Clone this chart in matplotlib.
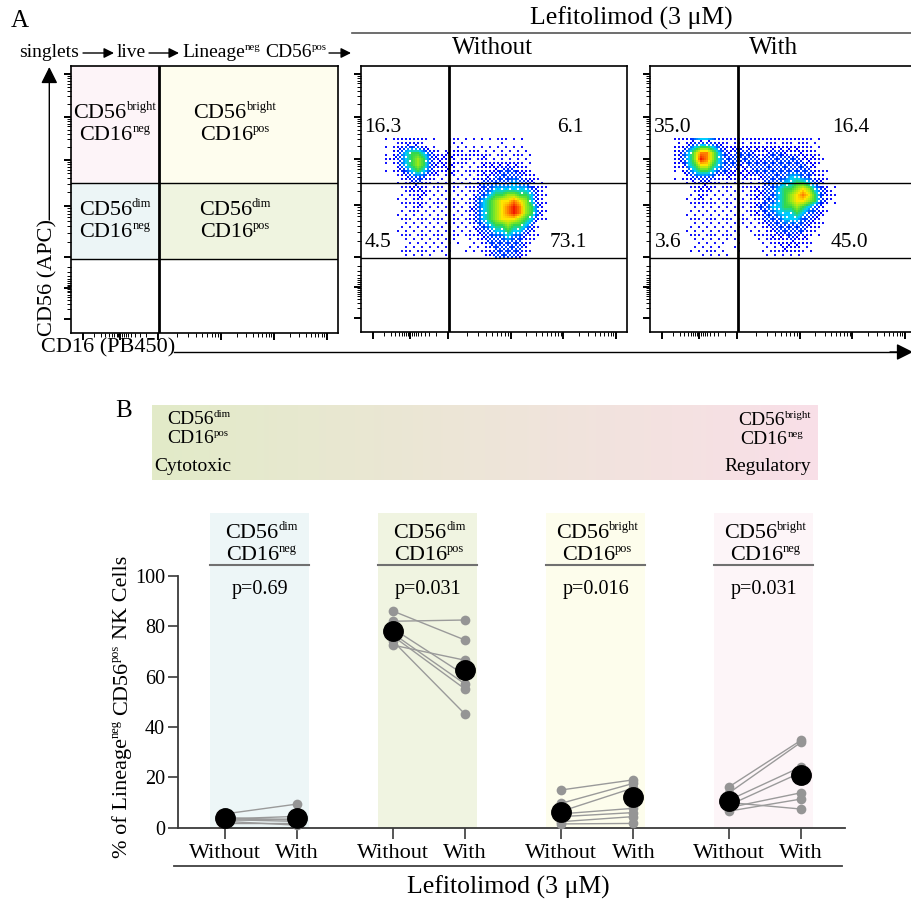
import numpy as np
import matplotlib
matplotlib.use("Agg")
import matplotlib.pyplot as plt
from matplotlib.colors import LinearSegmentedColormap
from matplotlib.lines import Line2D
from matplotlib.patches import FancyArrowPatch, Rectangle

plt.rcParams['font.family'] = ['Liberation Serif', 'DejaVu Serif']

# ---------------- data ----------------
# panel A quadrant percentages (UL, UR, LL, LR)
quad_without = ["16.3", "6.1", "4.5", "73.1"]
quad_with = ["35.0", "16.4", "3.6", "45.0"]

# density levels (0-9), 6-unit cells,
# x 24..192, y 194 (top row) .. 74 (bottom row)
dens_without = [
    "0011110000011000000100000000",
    "0123332110111111111111100000",
    "0234554321222122111111110000",
    "0234565322221211211111110000",
    "0134565322221111222222211000",
    "0123454322221112222333221000",
    "0012333211111112223333322100",
    "0011232111111112333334332110",
    "0011222111111112334444443210",
    "0011122111111113345566554210",
    "0011121111111123456778764210",
    "0011121111111123456789865310",
    "0011111111111123456789865310",
    "0011111111111123456777654210",
    "0011111111111113345565543100",
    "0011111111111112334454432100",
    "0011111111110112233343321000",
    "0001111111110011233333321000",
    "0011111111100111123333321000",
    "0011111101100000123333210000",
]
dens_with = [
    "0112222110111111111111110000",
    "1234554322222222222222111000",
    "1346886432333222332222211000",
    "1346986433333323333332221000",
    "1245775433323333333333221000",
    "0234554332222333333333321100",
    "0123333222222223333443322100",
    "0012222111111123334455432100",
    "0011221111111223345567643210",
    "0011211111111223345678753210",
    "0011211111111223345677653210",
    "0011111111111233445565432100",
    "0011111111111223344454332100",
    "0011111111111123334443321000",
    "0011111111111112333333221000",
    "0011111111101112233333211000",
    "0001111111100111222322210000",
    "0001111110100011122222100000",
    "0001111110100011112221100000",
    "0000111110000001111111000000",
]

# panel B: paired donors, % of Lineage-neg CD56-pos NK cells
group_top = [("CD56", "dim"), ("CD56", "dim"), ("CD56", "bright"), ("CD56", "bright")]
group_bottom = [("CD16", "neg"), ("CD16", "pos"), ("CD16", "pos"), ("CD16", "neg")]
p_values = ["p=0.69", "p=0.031", "p=0.016", "p=0.031"]
without_vals = [
    [5.5, 4.0, 3.5, 3.2, 3.0, 2.5, 2.0],
    [86, 82, 79, 77, 76, 74, 72.5],
    [15, 9.7, 6.5, 5.5, 4.4, 2.4, 1.5],
    [16.3, 13.9, 11, 10, 9, 8, 6.6],
]
with_vals = [
    [9.4, 3.0, 4.5, 2.5, 3.5, 1.0, 2.0],
    [74.5, 82.5, 60.5, 57, 55, 45, 66.5],
    [19, 17.6, 15.8, 7.7, 6.0, 4.4, 1.7],
    [34.8, 34, 24.2, 7.4, 22, 13.9, 11.4],
]
mean_without = [3.7, 78.1, 6.3, 10.6]
mean_with = [3.9, 62.7, 12.2, 20.9]
band_colors = ["#edf6f7", "#f0f4e1", "#fdfdec", "#fdf5f8"]
x_labels = ["Without", "With"]

# ---------------- helpers ----------------
W, H = 912, 900
fig = plt.figure(figsize=(W / 100, H / 100), dpi=100)
renderer = fig.canvas.get_renderer()


def fx(x):
    return x / W


def fy(y):
    return 1 - y / H


def px_axes(l, t, w, h):
    return fig.add_axes([l / W, 1 - (t + h) / H, w / W, h / H])


def ftext(x, y, s, **kw):
    return fig.text(fx(x), fy(y), s, **kw)


def fline(x0, y0, x1, y1, **kw):
    fig.add_artist(Line2D([fx(x0), fx(x1)], [fy(y0), fy(y1)],
                          transform=fig.transFigure, **kw))


def farrow(x0, y0, x1, y1, hl, hw, ms, lw=1.0):
    fig.add_artist(FancyArrowPatch((fx(x0), fy(y0)), (fx(x1), fy(y1)),
                                   transform=fig.transFigure,
                                   arrowstyle=f'-|>,head_length={hl},head_width={hw}',
                                   mutation_scale=ms, lw=lw, color='k',
                                   shrinkA=0, shrinkB=0))


def rich(x, y, parts, size, ha='left', rot=0, sup=0.56, rise=0.37):
    """Text with small superscripts; (x, y) = baseline anchor in pixels from top-left.
    parts: list of (text, kind) with kind 'n' normal, 's' superscript, ' ' space."""
    ang = np.deg2rad(rot)
    ux, uy = np.cos(ang), np.sin(ang)
    em = size * 100 / 72
    placed = []
    adv = 0.0
    for s, kind in parts:
        if kind == ' ':
            adv += 0.25 * em
            continue
        fs = size * (sup if kind == 's' else 1)
        off = rise * em if kind == 's' else 0.0
        t = fig.text(0, 0, s, fontsize=fs, rotation=rot, rotation_mode='anchor',
                     ha='left', va='baseline')
        bb = t.get_window_extent(renderer)
        placed.append((t, adv, off))
        adv += bb.width if rot == 0 else bb.height
    shift = {'left': 0.0, 'center': adv / 2, 'right': adv}[ha]
    X0, Y0 = x, H - y
    for t, a, off in placed:
        X = X0 + (a - shift) * ux - off * uy
        Y = Y0 + (a - shift) * uy + off * ux
        t.set_position((X / W, Y / H))


def sup_parts(base, sup):
    return [(base, 'n'), (sup, 's')]


def log_minors(a, b):
    return [a + (b - a) * np.log10(k) for k in range(2, 10)]


def zero_minors(c, half):
    d = [half * (1 - np.log10(k)) for k in range(2, 10)]
    return [c - v for v in d] + [c + v for v in d]


x_major = [12, 49, 87, 149.7, 202, 254.7]
x_minor = (zero_minors(49, 37) + log_minors(87, 149.7)
           + log_minors(149.7, 202) + log_minors(202, 254.7))
y_major = [13.7, 45, 75.3, 127, 172.7, 215.3, 258]
y_minor = (zero_minors(45, 30) + log_minors(75.3, 127) + log_minors(127, 172.7)
           + log_minors(172.7, 215.3) + log_minors(215.3, 258))

# colour and dot coverage for each density level
lv_pts = [0, 1, 2, 3, 4, 5, 6, 7, 8, 9]
lv_rgb = np.array([
    [0.0, 0.0, 1.0], [0.1, 0.1, 1.0], [0.0, 0.0, 1.0], [0.0, 0.25, 1.0],
    [0.0, 0.8, 1.0], [0.2, 0.85, 0.3], [0.6, 0.92, 0.1], [1.0, 0.9, 0.0],
    [1.0, 0.5, 0.0], [0.95, 0.1, 0.0]])
lv_cover = [0, 0.14, 0.34, 0.6, 0.88, 1, 1, 1, 1, 1]


def bayer(n):
    m = np.array([[0, 2], [3, 1]])
    while m.shape[0] < n:
        m = np.block([[4 * m, 4 * m + 2], [4 * m + 3, 4 * m + 1]])
    return (m + 0.5) / m.size


def draw_density(ax, rows, sub=3):
    grid = np.array([[int(c) for c in r] for r in rows], float)
    ny, nx = grid.shape
    ys = (np.arange(ny * sub) + 0.5) / sub - 0.5
    xs = (np.arange(nx * sub) + 0.5) / sub - 0.5
    y0 = np.clip(np.floor(ys).astype(int), 0, ny - 1)
    y1 = np.clip(y0 + 1, 0, ny - 1)
    ty = np.clip(ys - np.floor(ys), 0, 1)[:, None]
    x0 = np.clip(np.floor(xs).astype(int), 0, nx - 1)
    x1 = np.clip(x0 + 1, 0, nx - 1)
    tx = np.clip(xs - np.floor(xs), 0, 1)[None, :]
    g00 = grid[np.ix_(y0, x0)]
    g01 = grid[np.ix_(y0, x1)]
    g10 = grid[np.ix_(y1, x0)]
    g11 = grid[np.ix_(y1, x1)]
    field = (g00 * (1 - tx) * (1 - ty) + g01 * tx * (1 - ty)
             + g10 * (1 - tx) * ty + g11 * tx * ty)
    cover = np.interp(field, lv_pts, lv_cover)
    b = bayer(8)
    thr = np.tile(b, (ny * sub // 8 + 1, nx * sub // 8 + 1))[:ny * sub, :nx * sub]
    on = cover > thr
    rgb = np.ones(field.shape + (3,))
    for c in range(3):
        rgb[..., c] = np.where(on, np.interp(field, lv_pts, lv_rgb[:, c]), 1.0)
    ax.imshow(rgb, extent=(24, 192, 74, 194), origin='upper',
              interpolation='nearest', aspect='auto', zorder=1)


def setup_flow(ax):
    ax.set_xlim(0, 266)
    ax.set_ylim(0, 266)
    for s in ax.spines.values():
        s.set_linewidth(1.2)
        s.set_zorder(6)
    ax.set_xticks(x_major)
    ax.set_xticks(x_minor, minor=True)
    ax.set_yticks(y_major)
    ax.set_yticks(y_minor, minor=True)
    ax.tick_params(which='major', length=5, width=1.4, direction='out',
                   labelbottom=False, labelleft=False)
    ax.tick_params(which='minor', length=3, width=0.7, direction='out')
    ax.axvline(88, color='k', lw=2, zorder=5)
    ax.axhline(74, color='k', lw=1, zorder=5)
    ax.axhline(149, color='k', lw=1, zorder=5)


# ---------------- panel A ----------------
ftext(20, 21, "A", fontsize=18, ha='center', va='center')
ftext(631, 18, "Lefitolimod (3 μM)", fontsize=18.5, ha='center', va='center')
fline(352, 33, 912, 33, color='#555555', lw=1.2)
ftext(492, 48, "Without", fontsize=18, ha='center', va='center')
ftext(774, 48, "With", fontsize=18, ha='center', va='center')

# gating path
rich(19, 57, [("singlets", 'n')], 14)
rich(117, 57, [("live", 'n')], 14)
rich(182, 57, [("Lineage", 'n'), ("neg", 's'), ("", ' '), ("CD56", 'n'), ("pos", 's')], 14)
farrow(83, 53, 114, 53, 0.6, 0.3, 10)
farrow(149, 53, 179, 53, 0.6, 0.3, 10)
farrow(329, 53, 351, 53, 0.6, 0.3, 10)

# schematic quadrants
ax0 = px_axes(71, 66, 267, 267)
ax0.add_patch(Rectangle((0, 149), 88, 117, color='#fdf4f8', zorder=0))
ax0.add_patch(Rectangle((88, 149), 178, 117, color='#fefdee', zorder=0))
ax0.add_patch(Rectangle((0, 74), 88, 75, color='#ecf5f6', zorder=0))
ax0.add_patch(Rectangle((88, 74), 178, 75, color='#eff4e0', zorder=0))
setup_flow(ax0)
rich(115, 118, sup_parts("CD56", "bright"), 16, ha='center')
rich(115, 140, sup_parts("CD16", "neg"), 16, ha='center')
rich(235, 118, sup_parts("CD56", "bright"), 16, ha='center')
rich(235, 140, sup_parts("CD16", "pos"), 16, ha='center')
rich(115, 215, sup_parts("CD56", "dim"), 16, ha='center')
rich(115, 237, sup_parts("CD16", "neg"), 16, ha='center')
rich(235, 215, sup_parts("CD56", "dim"), 16, ha='center')
rich(235, 237, sup_parts("CD16", "pos"), 16, ha='center')

# flow plots
ax1 = px_axes(361, 66, 266, 266)
draw_density(ax1, dens_without)
setup_flow(ax1)
ax2 = px_axes(650, 66, 266, 266)
draw_density(ax2, dens_with)
setup_flow(ax2)

for left, vals, cx in [(364, quad_without, 570), (654, quad_with, 851)]:
    ftext(left, 127, vals[0], fontsize=15.5, ha='left', va='center')
    ftext(cx, 127, vals[1], fontsize=15.5, ha='center', va='center')
    ftext(left + 1, 242, vals[2], fontsize=15.5, ha='left', va='center')
    ftext(cx - 2, 242, vals[3], fontsize=15.5, ha='center', va='center')

# axis arrows
ftext(41, 348, "CD16 (PB450)", fontsize=16, ha='left', va='center')
fline(174, 352, 900, 352, color='k', lw=1)
farrow(890, 352, 913, 352, 1.0, 0.5, 10)
ftext(48, 278, "CD56 (APC)", fontsize=16, ha='center', va='center', rotation=90)
farrow(49.3, 220, 49.3, 67, 1.0, 0.5, 10)

# ---------------- panel B ----------------
ftext(124, 411, "B", fontsize=18, ha='center', va='center')
axg = px_axes(152, 405, 666, 75)
grad = LinearSegmentedColormap.from_list('grad', ['#e2ebc8', '#f9dfe8'])
axg.imshow(np.linspace(0, 1, 256)[None, :], cmap=grad, aspect='auto',
           extent=(0, 1, 0, 1))
axg.axis('off')
rich(167, 424, sup_parts("CD56", "dim"), 14)
rich(167, 443, sup_parts("CD16", "pos"), 14)
ftext(154, 467, "Cytotoxic", fontsize=14, ha='left', va='center')
rich(811, 425, sup_parts("CD56", "bright"), 14, ha='right')
rich(803, 444, sup_parts("CD16", "neg"), 14, ha='right')
ftext(811, 467, "Regulatory", fontsize=14, ha='right', va='center')

axb = px_axes(177.7, 513, 845 - 177.7, 827.7 - 513)
axb.set_xlim(-0.661, 8.607)
axb.set_ylim(0, 125)
base = [0, 2.333, 4.667, 7.0]
ticks = []
for g, b in enumerate(base):
    axb.add_patch(Rectangle((b - 0.21, 0), 1.37, 125, color=band_colors[g],
                            zorder=0, lw=0))
    axb.plot([b - 0.21, b + 1.16], [104.4, 104.4], color='#707070', lw=1.5)
    axb.text(b + 0.48, 94.8, p_values[g], fontsize=14.5, ha='center', va='center')
    for wo, wi in zip(without_vals[g], with_vals[g]):
        axb.plot([b, b + 1], [wo, wi], color='#9a9a9a', lw=1, marker='o', ms=7,
                 mfc='#959595', mec='none', zorder=3, clip_on=False)
    axb.plot([b, b + 1], [mean_without[g], mean_with[g]], 'o', color='k', ms=14,
             zorder=4, clip_on=False)
    ticks += [b, b + 1]
    cx = axb.transData.transform((b + 0.5, 0))[0]
    rich(cx, 538, sup_parts(*group_top[g]), 16, ha='center')
    rich(cx, 560, sup_parts(*group_bottom[g]), 16, ha='center')

axb.set_xticks(ticks)
axb.set_xticklabels(x_labels * 4, fontsize=16)
axb.set_yticks(range(0, 101, 20))
axb.tick_params(axis='y', labelsize=14.5, length=7, width=1.2, color='#3a3a3a', pad=2)
axb.tick_params(axis='x', length=8, width=1.2, color='#3a3a3a', pad=4)
for s in ['top', 'right']:
    axb.spines[s].set_visible(False)
axb.spines['left'].set_bounds(0, 100)
axb.spines['left'].set_color('#3a3a3a')
axb.spines['bottom'].set_color('#3a3a3a')
axb.spines['left'].set_linewidth(1.3)
axb.spines['bottom'].set_linewidth(1.3)

rich(127, 707, [("% of Lineage", 'n'), ("neg", 's'), ("", ' '), ("CD56", 'n'),
                ("pos", 's'), ("", ' '), ("NK Cells", 'n')], 16, ha='center', rot=90)
fline(174, 866, 842, 866, color='#404040', lw=1.3)
ftext(508, 887, "Lefitolimod (3 μM)", fontsize=18.5, ha='center', va='center')

fig.savefig("out.png", dpi=100)
